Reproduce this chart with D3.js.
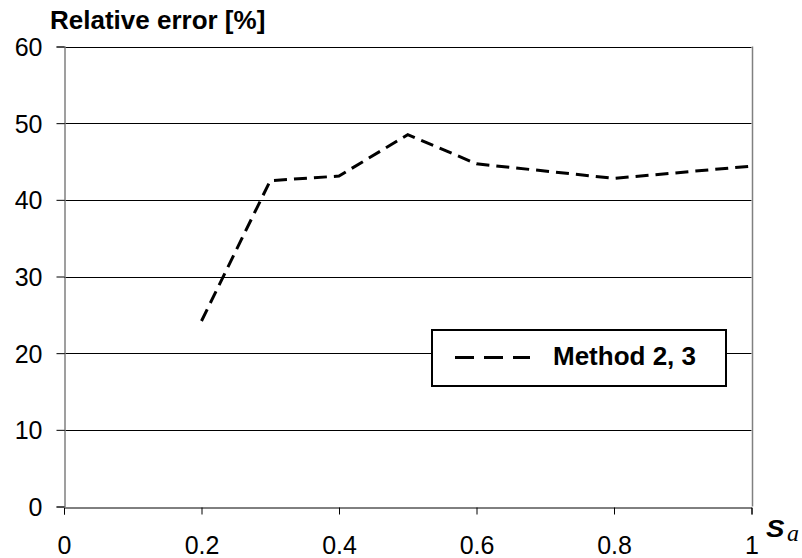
<!DOCTYPE html>
<html><head><meta charset="utf-8">
<script src="https://cdn.jsdelivr.net/npm/d3@7"></script>
<style>body{margin:0;background:#fff}svg{display:block}text{font-family:"Liberation Sans",Arial,sans-serif}</style>
</head><body>
<svg id="c" width="802" height="558"></svg>
<script>
const xValues = [0.2, 0.3, 0.4, 0.5, 0.6, 0.8, 1.0];
const errorValues = [24.2, 42.5, 43.1, 48.5, 44.7, 42.8, 44.4];
const seriesName = "Method 2, 3";
const xTicks = [0, 0.2, 0.4, 0.6, 0.8, 1];
const yTicks = [0, 10, 20, 30, 40, 50, 60];

const svg = d3.select("#c");
const x = d3.scaleLinear().domain([0, 1]).range([64, 751.5]);
const y = d3.scaleLinear().domain([0, 60]).range([506.5, 46.5]);
const FF = '"Liberation Sans",Arial,sans-serif';

// gridlines
svg.append("g").selectAll("line").data(yTicks.filter(d => d > 0)).join("line")
  .attr("x1", x(0)).attr("x2", x(1))
  .attr("y1", d => Math.round(y(d)) + 0.5).attr("y2", d => Math.round(y(d)) + 0.5)
  .attr("stroke", "#000").attr("stroke-width", 1);

// axes
const xAxis = svg.append("g").attr("transform", `translate(0,${Math.round(y(0)) + 0.5})`)
  .call(d3.axisBottom(x).tickValues(xTicks).tickSize(7).tickFormat(d3.format("")));
const yAxis = svg.append("g").attr("transform", `translate(${Math.round(x(0)) + 0.5},0)`)
  .call(d3.axisLeft(y).tickValues(yTicks).tickSize(8).tickFormat(d3.format("")));
[xAxis, yAxis].forEach(a => {
  a.attr("font-size", null).attr("font-family", null);
  a.select(".domain").attr("stroke", "#000").attr("stroke-width", 1);
  a.selectAll(".tick line").attr("stroke", "#000");
  a.selectAll("text").attr("fill", "#000").style("font-size", "25px").style("font-family", FF);
});
xAxis.selectAll(".tick text").attr("dy", null).attr("y", 46);
yAxis.selectAll(".tick text").attr("x", -22).attr("dy", "0.36em");
// right border of plot (x=1 vertical)
svg.append("line").attr("x1", Math.round(x(1)) + 0.5).attr("x2", Math.round(x(1)) + 0.5)
  .attr("y1", y(60)).attr("y2", y(0)).attr("stroke", "#808080").attr("stroke-width", 1.5);
yAxis.select(".domain").attr("stroke", "#808080").attr("stroke-width", 1.5);

// series line
const line = d3.line().x((d, i) => x(xValues[i])).y(d => y(d));
svg.append("path").datum(errorValues).attr("d", line)
  .attr("fill", "none").attr("stroke", "#000").attr("stroke-width", 3)
  .attr("stroke-dasharray", "13,7");

// title
svg.append("text").attr("x", 50).attr("y", 29)
  .style("font-weight", "bold").style("font-size", "26px").style("font-family", FF)
  .text("Relative error [%]");

// x label S_a
svg.append("text").attr("transform", "translate(766,537) scale(1.2,1)")
  .style("font-weight", "bold").style("font-style", "italic")
  .style("font-size", "23px").style("font-family", FF).text("S");
svg.append("text").attr("x", 787).attr("y", 541)
  .style("font-style", "italic").style("font-size", "24px")
  .style("font-family", '"Liberation Serif","Times New Roman",serif').text("a");

// legend
const lg = svg.append("g");
lg.append("rect").attr("x", 432).attr("y", 330).attr("width", 294).attr("height", 56)
  .attr("fill", "#fff").attr("stroke", "#000").attr("stroke-width", 2);
lg.append("line").attr("x1", 455).attr("x2", 530).attr("y1", 357.5).attr("y2", 357.5)
  .attr("stroke", "#000").attr("stroke-width", 3).attr("stroke-dasharray", "19,10");
lg.append("text").attr("x", 553).attr("y", 365)
  .style("font-weight", "bold").style("font-size", "26px").style("font-family", FF)
  .text(seriesName);
</script>
</body></html>
